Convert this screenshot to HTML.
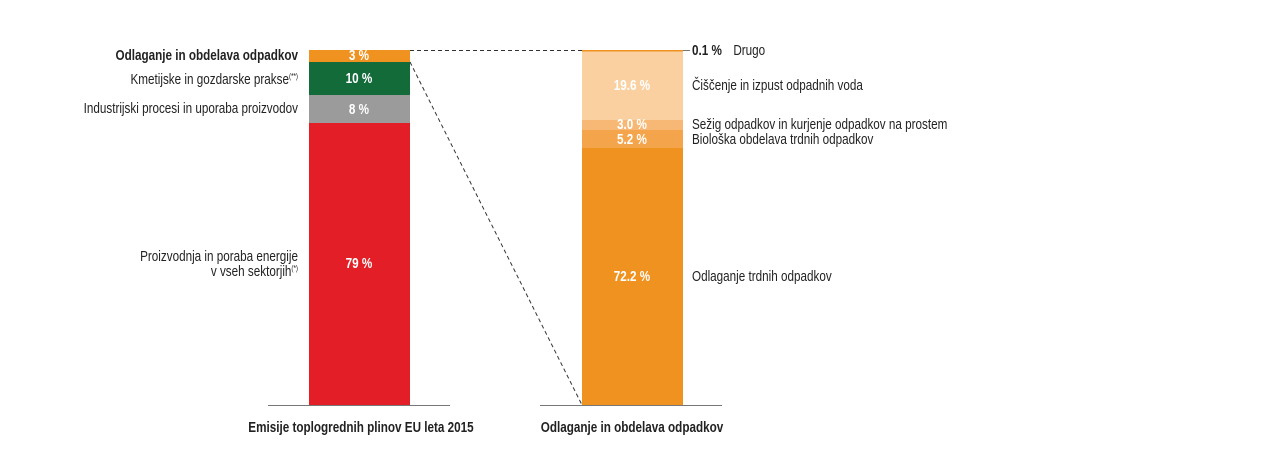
<!DOCTYPE html>
<html><head><meta charset="utf-8"><style>
body{margin:0;background:#fff;width:1283px;height:471px;overflow:hidden}
</style></head><body>
<svg width="1283" height="471" xmlns="http://www.w3.org/2000/svg" font-family="'Liberation Sans',sans-serif" font-size="15">
<rect x="309" y="50" width="101" height="12" fill="#f0921f"/>
<rect x="309" y="62" width="101" height="33" fill="#136b3a"/>
<rect x="309" y="95" width="101" height="28" fill="#9b9b9b"/>
<rect x="309" y="123" width="101" height="282" fill="#e31e26"/>
<line x1="268" y1="405.5" x2="450" y2="405.5" stroke="#777" stroke-width="1"/>
<rect x="582" y="50" width="101" height="70" fill="#fad0a0"/>
<rect x="582" y="50" width="101" height="1.5" fill="#f0921f"/>
<rect x="582" y="120" width="101" height="10" fill="#f8b875"/>
<rect x="582" y="130" width="101" height="18" fill="#f4a54c"/>
<rect x="582" y="148" width="101" height="257" fill="#f0921f"/>
<line x1="540" y1="405.5" x2="722" y2="405.5" stroke="#777" stroke-width="1"/>
<line x1="683" y1="50.5" x2="690" y2="50.5" stroke="#777"/>
<line x1="410" y1="50.5" x2="582" y2="50.5" stroke="#333" stroke-dasharray="4,3"/>
<line x1="410" y1="62" x2="582" y2="405" stroke="#333" stroke-dasharray="4,3"/>
<g fill="#fff" font-weight="bold" text-anchor="middle">
<g transform="translate(359,0) scale(0.78,1) translate(-359,0)">
<text x="359" y="60">3 %</text>
<text x="359" y="83">10 %</text>
<text x="359" y="114">8 %</text>
<text x="359" y="268">79 %</text>
</g>
<g transform="translate(632,0) scale(0.78,1) translate(-632,0)">
<text x="632" y="90">19.6 %</text>
<text x="632" y="129">3.0 %</text>
<text x="632" y="144">5.2 %</text>
<text x="632" y="281">72.2 %</text>
</g>
</g>
<g fill="#222" text-anchor="end" transform="translate(298,0) scale(0.78,1) translate(-298,0)">
<text x="298" y="60" font-weight="bold">Odlaganje in obdelava odpadkov</text>
<text x="298" y="84">Kmetijske in gozdarske prakse<tspan font-size="8" dy="-5">(**)</tspan></text>
<text x="298" y="113">Industrijski procesi in uporaba proizvodov</text>
<text x="298" y="261">Proizvodnja in poraba energije</text>
<text x="298" y="276">v vseh sektorjih<tspan font-size="8" dy="-5">(*)</tspan></text>
</g>
<g fill="#222" transform="translate(692,0) scale(0.78,1) translate(-692,0)">
<text x="692" y="55" font-weight="bold">0.1 %</text>
<text x="745" y="55">Drugo</text>
<text x="692" y="90">Čiščenje in izpust odpadnih voda</text>
<text x="692" y="129">Sežig odpadkov in kurjenje odpadkov na prostem</text>
<text x="692" y="144">Biološka obdelava trdnih odpadkov</text>
<text x="692" y="281">Odlaganje trdnih odpadkov</text>
</g>
<g fill="#222" font-weight="bold" text-anchor="middle">
<text x="361" y="432" transform="translate(361,0) scale(0.78,1) translate(-361,0)">Emisije toplogrednih plinov EU leta 2015</text>
<text x="632" y="432" transform="translate(632,0) scale(0.78,1) translate(-632,0)">Odlaganje in obdelava odpadkov</text>
</g>
</svg>
</body></html>
